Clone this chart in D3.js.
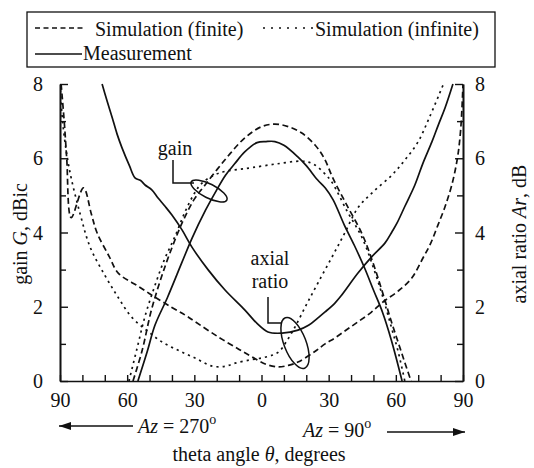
<!DOCTYPE html>
<html><head><meta charset="utf-8">
<script src="https://cdn.jsdelivr.net/npm/d3@7"></script>
<style>
body{margin:0;background:#fff;}
text{font-family:"Liberation Serif","Times New Roman",serif;fill:#111;}
</style></head>
<body>
<svg id="chart" width="534" height="468"></svg>
<script>
// ---- data (theta in degrees: negative = Az 270 side, positive = Az 90 side) ----
const xTickValues = [-90, -60, -30, 0, 30, 60, 90];
const xTickLabels = ["90", "60", "30", "0", "30", "60", "90"];
const yTickValues = [0, 2, 4, 6, 8];

const gainFinite = [[-57.4,0],[-53.4,0.8],[-49,1.95],[-43,3.1],[-37.3,4.0],[-34.2,4.42],[-30,4.9],[-25.2,5.28],[-16.3,5.96],[-7.4,6.55],[0,6.85],[6,6.92],[12,6.85],[18,6.68],[24,6.35],[28,6.0],[32,5.45],[38,4.75],[45,3.95],[50,3.15],[54,2.4],[58,1.6],[61,1.05],[64,0.5],[66.8,0]];
const gainInfinite = [[-59.2,0],[-55.5,0.9],[-52,1.75],[-48,2.5],[-43.5,3.25],[-38.6,3.9],[-34.2,4.55],[-30,5.05],[-26.6,5.33],[-21,5.55],[-16,5.65],[-10,5.7],[-4,5.75],[7,5.85],[18,5.92],[23,5.85],[28,5.6],[31.5,5.35],[38,4.6],[45,3.85],[50,3.05],[54,2.3],[58,1.45],[61,0.8],[64,0]];
const gainMeasured = [[-55.2,0],[-51,0.8],[-47.6,1.5],[-42,2.25],[-35.5,3.2],[-31,3.85],[-25,4.6],[-20,5.15],[-16,5.55],[-12,5.85],[-7.5,6.17],[-2,6.42],[2,6.45],[6,6.45],[10,6.35],[16,6.05],[20,5.8],[25,5.42],[28.5,5.2],[32,4.88],[37,4.2],[41.5,3.65],[46,3.05],[50,2.45],[54,1.86],[58,1.1],[62.8,0]];

const arFinite = [[-89.5,8],[-88,6.9],[-87,6.0],[-85,4.4],[-79.5,5.2],[-76,4.5],[-73.5,4.0],[-68,3.35],[-63.9,2.9],[-55,2.55],[-47.6,2.26],[-40,1.98],[-34.2,1.78],[-29.7,1.6],[-19.4,1.19],[-10,0.85],[-4.2,0.65],[2,0.45],[7.4,0.38],[12,0.42],[16.3,0.51],[24,0.8],[28.4,1.0],[32.8,1.16],[38,1.38],[43,1.59],[49,1.85],[54.3,2.13],[61,2.42],[67.2,2.78],[72,3.3],[75.5,3.7],[78.8,4.2],[82,4.7],[85,5.28],[87.5,6.0],[89,6.8],[90,8]];
const arInfinite = [[-90,8],[-88.6,6.85],[-85.8,5.7],[-81,4.5],[-76.5,3.6],[-70,2.85],[-64,2.25],[-58,1.72],[-51,1.35],[-44.4,1.05],[-37,0.82],[-29.7,0.62],[-22,0.4],[-16,0.4],[-11.8,0.48],[-5,0.57],[0,0.62],[5,0.7],[8,0.8],[11,1.05],[15,1.46],[20,2.05],[25.2,2.64],[31.5,3.34],[37.3,4.0],[43,4.66],[50,5.1],[58.3,5.55],[64,5.95],[69.9,6.44],[75,7.1],[80.6,7.9],[81.3,8]];
const arMeasured = [[-71.2,8],[-69,7.55],[-66.7,7.1],[-64.5,6.65],[-62.3,6.28],[-59,5.8],[-56.5,5.47],[-54,5.4],[-52,5.28],[-49,5.15],[-46.2,4.93],[-43,4.7],[-40,4.47],[-35.5,4.07],[-31,3.6],[-23.9,3.0],[-16.3,2.45],[-7.4,1.91],[-2,1.55],[2.9,1.32],[9.2,1.29],[16.3,1.37],[21,1.5],[25.2,1.7],[28.4,1.86],[32.8,2.1],[35.9,2.32],[43,2.9],[49.3,3.35],[55.2,3.72],[58.3,4.02],[60.5,4.25],[64,4.7],[68.5,5.28],[72,5.85],[76.1,6.44],[79,6.9],[82,7.36],[85.5,8]];

const legendLabels = ["Simulation (finite)", "Simulation (infinite)", "Measurement"];

// ---- drawing ----
const svg = d3.select("#chart");
svg.append("rect").attr("width",534).attr("height",468).attr("fill","#fff");

const L = 60, R = 463, T = 84, B = 381;
const x = d3.scaleLinear().domain([-90, 90]).range([L, R]);
const y = d3.scaleLinear().domain([0, 8]).range([B, T]);

const styles = {
  dashed: "6,3.5",
  dotted: "2.2,4",
  solid: null
};

svg.append("defs").append("clipPath").attr("id","plotclip")
  .append("rect").attr("x",L).attr("y",T-1).attr("width",R-L).attr("height",B-T+1);

const line = d3.line().x(d => x(d[0])).y(d => y(d[1])).curve(d3.curveCatmullRom.alpha(0.5));

const series = [
  [gainFinite, "dashed"], [gainInfinite, "dotted"], [gainMeasured, "solid"],
  [arFinite, "dashed"], [arInfinite, "dotted"], [arMeasured, "solid"]
];
const gLines = svg.append("g").attr("clip-path","url(#plotclip)");
series.forEach(([data, st]) => {
  gLines.append("path").datum(data).attr("d", line)
    .attr("fill","none").attr("stroke","#111")
    .attr("stroke-width", 1.7)
    .attr("stroke-dasharray", styles[st]);
});

// axes
function styleAxis(g){
  g.select(".domain").attr("stroke","#111").attr("stroke-width",1.6);
  g.selectAll(".tick line").attr("stroke","#111").attr("stroke-width",1.4);
}
svg.append("g").attr("transform",`translate(0,${B})`)
  .call(d3.axisBottom(x).tickValues(d3.range(-90, 91, 10)).tickSize(-6).tickSizeOuter(0).tickFormat(""))
  .call(styleAxis);
const xl = svg.append("g").attr("transform",`translate(0,${B})`)
  .call(d3.axisBottom(x).tickValues(xTickValues).tickSize(0).tickPadding(12)
    .tickFormat((d,i) => xTickLabels[i]));
xl.select(".domain").remove();
xl.selectAll("text").attr("font-size",20).attr("font-family","Liberation Serif, serif").attr("fill","#111");

svg.append("g").attr("transform",`translate(${L},0)`)
  .call(d3.axisLeft(y).tickValues(d3.range(1, 8, 2)).tickSize(-6).tickSizeOuter(0).tickFormat(""))
  .call(styleAxis);
const yl = svg.append("g").attr("transform",`translate(${L},0)`)
  .call(d3.axisLeft(y).tickValues(yTickValues).tickSize(-8).tickSizeOuter(0).tickPadding(17).tickFormat(d3.format("d")))
  .call(styleAxis);
yl.selectAll("text").attr("font-size",20).attr("font-family","Liberation Serif, serif").attr("fill","#111").attr("dy","0.33em");

svg.append("g").attr("transform",`translate(${R},0)`)
  .call(d3.axisRight(y).tickValues(d3.range(1, 8, 2)).tickSize(-6).tickSizeOuter(0).tickFormat(""))
  .call(styleAxis);
const yr = svg.append("g").attr("transform",`translate(${R},0)`)
  .call(d3.axisRight(y).tickValues(yTickValues).tickSize(-8).tickSizeOuter(0).tickPadding(12).tickFormat(d3.format("d")))
  .call(styleAxis);
yr.selectAll("text").attr("font-size",20).attr("font-family","Liberation Serif, serif").attr("fill","#111").attr("dy","0.33em");

// axis titles
const lt = svg.append("text").attr("transform","translate(27,234) rotate(-90)")
  .attr("text-anchor","middle").attr("font-size",20);
lt.append("tspan").text("gain ");
lt.append("tspan").attr("font-style","italic").text("G");
lt.append("tspan").text(", dBic");

const rt = svg.append("text").attr("transform","translate(526,234) rotate(-90)")
  .attr("text-anchor","middle").attr("font-size",20);
rt.append("tspan").text("axial ratio ");
rt.append("tspan").attr("font-style","italic").text("Ar");
rt.append("tspan").text(", dB");

const bt = svg.append("text").attr("x",259).attr("y",461).attr("text-anchor","middle").attr("font-size",20);
bt.append("tspan").text("theta angle ");
bt.append("tspan").attr("font-style","italic").text("θ");
bt.append("tspan").text(", degrees");

// Az arrows
svg.append("defs").append("marker").attr("id","arr").attr("viewBox","0 0 12 8")
  .attr("refX",12).attr("refY",4).attr("markerWidth",12).attr("markerHeight",8)
  .attr("markerUnits","userSpaceOnUse").attr("orient","auto")
  .append("path").attr("d","M0,0 L12,4 L0,8 Z").attr("fill","#111");
svg.append("line").attr("x1",133).attr("y1",426).attr("x2",59).attr("y2",426)
  .attr("stroke","#111").attr("stroke-width",1.5).attr("marker-end","url(#arr)");
svg.append("line").attr("x1",387).attr("y1",432).attr("x2",465).attr("y2",432)
  .attr("stroke","#111").attr("stroke-width",1.5).attr("marker-end","url(#arr)");

function azLabel(xp, yp, val){
  const t = svg.append("text").attr("x",xp).attr("y",yp).attr("font-size",20);
  t.append("tspan").attr("font-style","italic").text("Az");
  t.append("tspan").text(" = " + val);
  t.append("tspan").attr("dy",-9).attr("font-size",14).text("o");
}
azLabel(138, 433, "270");
azLabel(303, 437, "90");

// annotations
svg.append("text").attr("x",175).attr("y",155).attr("text-anchor","middle").attr("font-size",20).text("gain");
svg.append("path").attr("d","M173,160 V183 H194").attr("fill","none").attr("stroke","#111").attr("stroke-width",1.5);
svg.append("ellipse").attr("cx",209).attr("cy",191).attr("rx",20).attr("ry",7)
  .attr("transform","rotate(27,209,191)").attr("fill","none").attr("stroke","#111").attr("stroke-width",1.5);

svg.append("text").attr("x",270).attr("y",265).attr("text-anchor","middle").attr("font-size",20).text("axial");
svg.append("text").attr("x",270).attr("y",288).attr("text-anchor","middle").attr("font-size",20).text("ratio");
svg.append("path").attr("d","M268,297 V323 H281").attr("fill","none").attr("stroke","#111").attr("stroke-width",1.5);
svg.append("ellipse").attr("cx",295).attr("cy",343).attr("rx",11).attr("ry",27)
  .attr("transform","rotate(-21,295,343)").attr("fill","none").attr("stroke","#111").attr("stroke-width",1.5);

// legend
svg.append("rect").attr("x",27).attr("y",12).attr("width",468).attr("height",55)
  .attr("fill","#fff").attr("stroke","#111").attr("stroke-width",1.3);
const legendItems = [
  {x1:35, x2:83, y:28, tx:95, ty:36, st:"dashed", label:legendLabels[0]},
  {x1:263, x2:313, y:28, tx:315, ty:36, st:"dotted", label:legendLabels[1]},
  {x1:35, x2:82, y:54, tx:83, ty:60, st:"solid", label:legendLabels[2]}
];
legendItems.forEach(d => {
  svg.append("line").attr("x1",d.x1).attr("x2",d.x2).attr("y1",d.y).attr("y2",d.y)
    .attr("stroke","#111").attr("stroke-width",1.6).attr("stroke-dasharray", d.st==="dashed" ? "5,3.5" : d.st==="dotted" ? "2,6" : null);
  svg.append("text").attr("x",d.tx).attr("y",d.ty).attr("font-size",20).text(d.label);
});
</script>
</body></html>
